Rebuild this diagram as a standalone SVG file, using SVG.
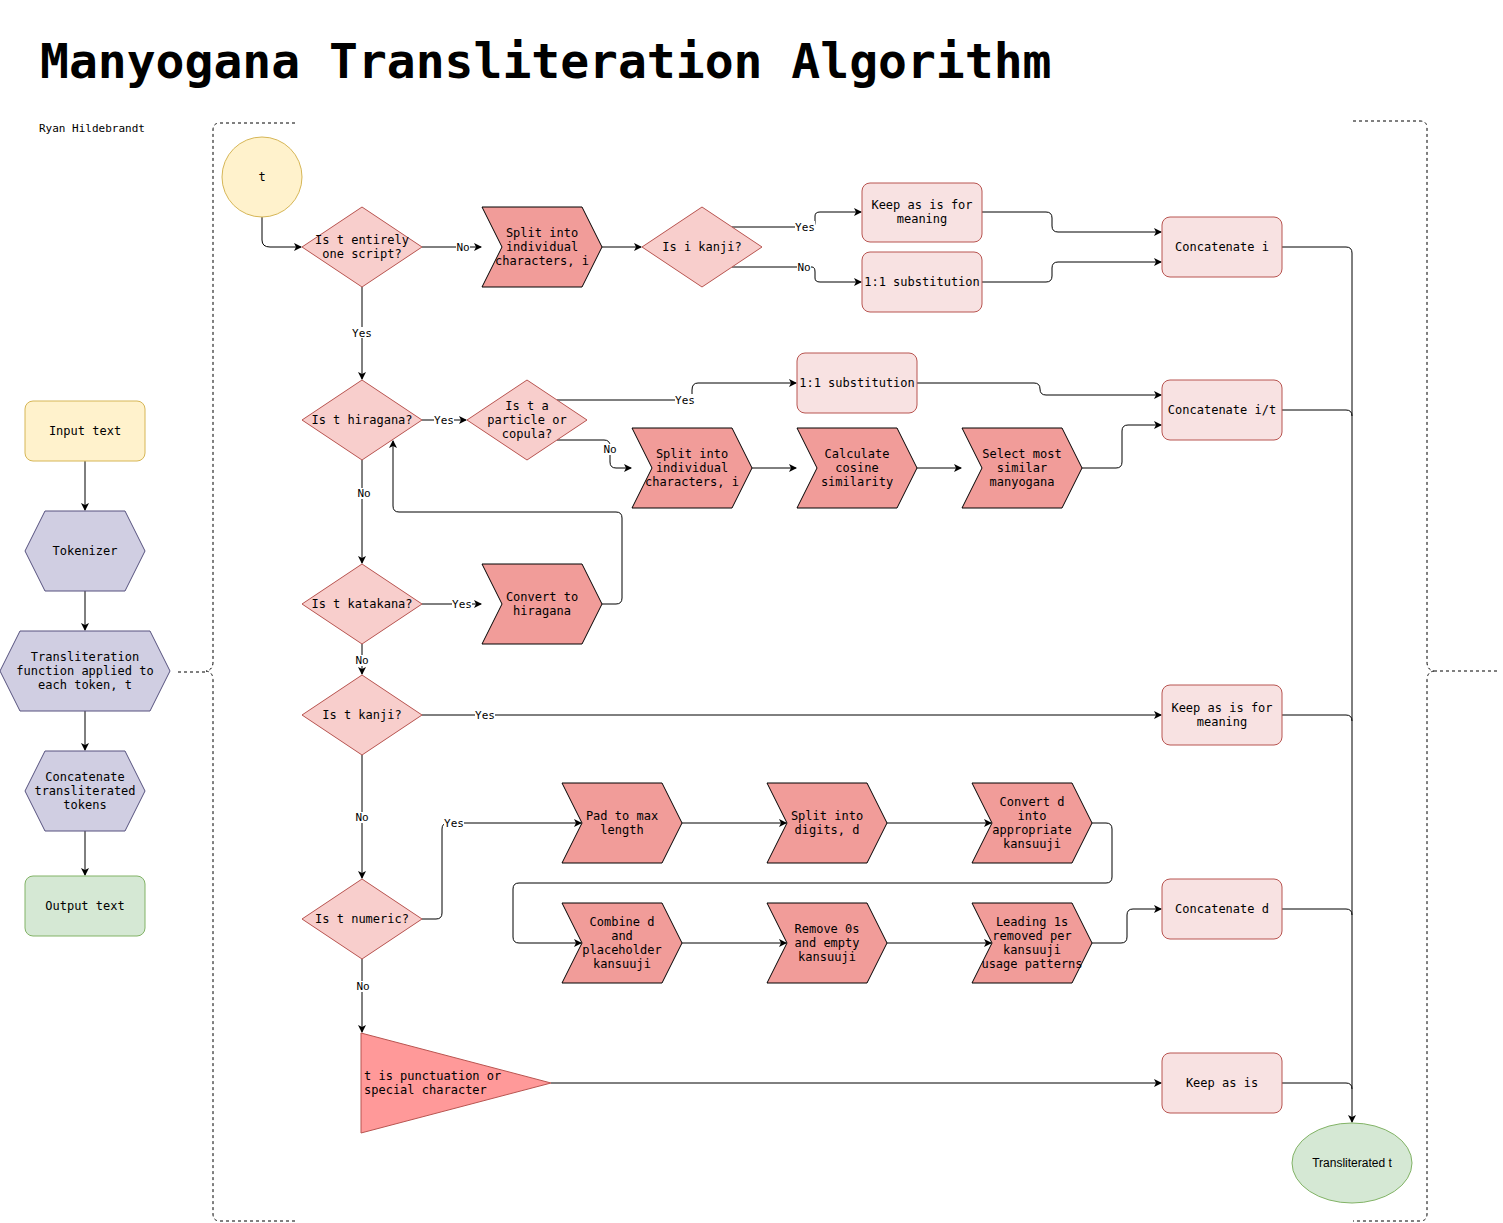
<svg xmlns="http://www.w3.org/2000/svg" width="1503" height="1223" viewBox="0 0 1503 1223">
<style>
text{font-family:"DejaVu Sans Mono","Liberation Mono",monospace;font-size:12px;text-anchor:middle;fill:#000}
.d{fill:#f8cecc;stroke:#b85450}
.s{fill:#f19c99;stroke:#000}
.r{fill:#f8e2e2;stroke:#b85450}
.h{fill:#d0cee2;stroke:#56517e}
.c{fill:none;stroke:#000;stroke-width:1}
.dash{fill:none;stroke:#000;stroke-dasharray:3 3}
.lb{font-size:11px}
.lbg{fill:#fff}
</style>
<defs><marker id="a" markerWidth="8" markerHeight="8" refX="7" refY="4" orient="auto" markerUnits="userSpaceOnUse"><path d="M0,0 L8,4 L0,8 L2,4 Z" fill="#000"/></marker></defs>
<rect width="1503" height="1223" fill="#fff"/>
<text x="40" y="78" style="font-size:48px;font-weight:bold;text-anchor:start">Manyogana Transliteration Algorithm</text>
<text x="39" y="132" style="font-size:11px;text-anchor:start">Ryan Hildebrandt</text>
<path class="dash" d="M295,123 H220 Q213,123 213,130 V662 Q213,670 206,671 Q213,672 213,680 V1214 Q213,1221 220,1221 H295"/>
<path class="dash" d="M178,672 H206"/>
<path class="dash" d="M1353,121 H1420 Q1427,121 1427,128 V662 Q1427,670 1434,671 Q1427,672 1427,680 V1214 Q1427,1221 1420,1221 H1353"/>
<path class="dash" d="M1434,671 H1497"/>
<g id="connectors">
<path class="c" d="M262,217 V240 Q262,247 270,247 H301" marker-end="url(#a)"/>
<path class="c" d="M422,247 H481" marker-end="url(#a)"/>
<path class="c" d="M602,247 H641" marker-end="url(#a)"/>
<path class="c" d="M732,227 H812 Q815,227 815,222 V216 Q815,212 820,212 H861" marker-end="url(#a)"/>
<path class="c" d="M732,267 H812 Q815,267 815,272 V278 Q815,282 820,282 H861" marker-end="url(#a)"/>
<path class="c" d="M982,212 H1046 Q1052,212 1052,218 V226 Q1052,232 1058,232 H1161" marker-end="url(#a)"/>
<path class="c" d="M982,282 H1046 Q1052,282 1052,276 V268 Q1052,262 1058,262 H1161" marker-end="url(#a)"/>
<path class="c" d="M362,287 V379" marker-end="url(#a)"/>
<path class="c" d="M422,420 H466" marker-end="url(#a)"/>
<path class="c" d="M557,400 H686 Q692,400 692,394 V390 Q692,383 698,383 H796" marker-end="url(#a)"/>
<path class="c" d="M557,440 H604 Q610,440 610,446 V462 Q610,468 616,468 H631" marker-end="url(#a)"/>
<path class="c" d="M917,383 H1034 Q1040,383 1040,389 V389 Q1040,395 1046,395 H1161" marker-end="url(#a)"/>
<path class="c" d="M752,468 H796" marker-end="url(#a)"/>
<path class="c" d="M917,468 H961" marker-end="url(#a)"/>
<path class="c" d="M1082,468 H1116 Q1122,468 1122,462 V431 Q1122,425 1128,425 H1161" marker-end="url(#a)"/>
<path class="c" d="M362,460 V563" marker-end="url(#a)"/>
<path class="c" d="M422,604 H481" marker-end="url(#a)"/>
<path class="c" d="M602,604 H616 Q622,604 622,598 V518 Q622,512 616,512 H399 Q393,512 393,506 V441" marker-end="url(#a)"/>
<path class="c" d="M362,644 V674" marker-end="url(#a)"/>
<path class="c" d="M422,715 H1161" marker-end="url(#a)"/>
<path class="c" d="M362,755 V878" marker-end="url(#a)"/>
<path class="c" d="M422,919 H436 Q442,919 442,913 V829 Q442,823 448,823 H581" marker-end="url(#a)"/>
<path class="c" d="M682,823 H786" marker-end="url(#a)"/>
<path class="c" d="M887,823 H991" marker-end="url(#a)"/>
<path class="c" d="M1092,823 H1106 Q1112,823 1112,829 V877 Q1112,883 1106,883 H519 Q513,883 513,889 V937 Q513,943 519,943 H581" marker-end="url(#a)"/>
<path class="c" d="M682,943 H786" marker-end="url(#a)"/>
<path class="c" d="M887,943 H991" marker-end="url(#a)"/>
<path class="c" d="M1092,943 H1121 Q1127,943 1127,937 V915 Q1127,909 1133,909 H1161" marker-end="url(#a)"/>
<path class="c" d="M362,959 V1032" marker-end="url(#a)"/>
<path class="c" d="M551,1083 H1161" marker-end="url(#a)"/>
<path class="c" d="M1282,247 H1346 Q1352,247 1352,253 V1122" marker-end="url(#a)"/>
<path class="c" d="M1282,410 H1346 Q1352,410 1352,416"/>
<path class="c" d="M1282,715 H1346 Q1352,715 1352,721"/>
<path class="c" d="M1282,909 H1346 Q1352,909 1352,915"/>
<path class="c" d="M1282,1083 H1346 Q1352,1083 1352,1089"/>
<path class="c" d="M85,461 V510" marker-end="url(#a)"/>
<path class="c" d="M85,591 V630" marker-end="url(#a)"/>
<path class="c" d="M85,711 V750" marker-end="url(#a)"/>
<path class="c" d="M85,831 V875" marker-end="url(#a)"/>
<g class="lb">
<rect class="lbg" x="456" y="242" width="14" height="11"/><text x="463" y="251" class="lb">No</text>
<rect class="lbg" x="795" y="221" width="20" height="11"/><text x="805" y="231" class="lb">Yes</text>
<rect class="lbg" x="797" y="261" width="14" height="11"/><text x="804" y="271" class="lb">No</text>
<rect class="lbg" x="352" y="327" width="20" height="11"/><text x="362" y="337" class="lb">Yes</text>
<rect class="lbg" x="434" y="414" width="20" height="11"/><text x="444" y="424" class="lb">Yes</text>
<rect class="lbg" x="675" y="394" width="20" height="11"/><text x="685" y="404" class="lb">Yes</text>
<rect class="lbg" x="603" y="444" width="14" height="11"/><text x="610" y="453" class="lb">No</text>
<rect class="lbg" x="357" y="488" width="14" height="11"/><text x="364" y="497" class="lb">No</text>
<rect class="lbg" x="452" y="598" width="20" height="11"/><text x="462" y="608" class="lb">Yes</text>
<rect class="lbg" x="355" y="655" width="14" height="11"/><text x="362" y="664" class="lb">No</text>
<rect class="lbg" x="475" y="709" width="20" height="11"/><text x="485" y="719" class="lb">Yes</text>
<rect class="lbg" x="355" y="812" width="14" height="11"/><text x="362" y="821" class="lb">No</text>
<rect class="lbg" x="444" y="817" width="20" height="11"/><text x="454" y="827" class="lb">Yes</text>
<rect class="lbg" x="356" y="981" width="14" height="11"/><text x="363" y="990" class="lb">No</text>
</g>
</g>
<g id="t"><circle cx="262" cy="177" r="40" fill="#fff2cc" stroke="#d6b656"/><text x="262" y="181">t</text></g>
<g id="d1"><path class="d" d="M302,247 L362,207 L422,247 L362,287 Z"/><text x="362" y="244">Is t entirely</text><text x="362" y="258">one script?</text></g>
<g id="s1"><path class="s" d="M482,207 H582 L602,247 L582,287 H482 L502,247 Z"/><text x="542" y="237">Split into</text><text x="542" y="251">individual</text><text x="542" y="265">characters, i</text></g>
<g id="d2"><path class="d" d="M642,247 L702,207 L762,247 L702,287 Z"/><text x="702" y="251">Is i kanji?</text></g>
<g id="r1"><rect class="r" x="862" y="183" width="120" height="59" rx="8"/><text x="922" y="209">Keep as is for</text><text x="922" y="223">meaning</text></g>
<g id="r2"><rect class="r" x="862" y="252" width="120" height="60" rx="8"/><text x="922" y="286">1:1 substitution</text></g>
<g id="r3"><rect class="r" x="1162" y="217" width="120" height="60" rx="8"/><text x="1222" y="251">Concatenate i</text></g>
<g id="d3"><path class="d" d="M302,420 L362,380 L422,420 L362,460 Z"/><text x="362" y="424">Is t hiragana?</text></g>
<g id="d4"><path class="d" d="M467,420 L527,380 L587,420 L527,460 Z"/><text x="527" y="410">Is t a</text><text x="527" y="424">particle or</text><text x="527" y="438">copula?</text></g>
<g id="r4"><rect class="r" x="797" y="353" width="120" height="60" rx="8"/><text x="857" y="387">1:1 substitution</text></g>
<g id="r5"><rect class="r" x="1162" y="380" width="120" height="60" rx="8"/><text x="1222" y="414">Concatenate i/t</text></g>
<g id="s2"><path class="s" d="M632,428 H732 L752,468 L732,508 H632 L652,468 Z"/><text x="692" y="458">Split into</text><text x="692" y="472">individual</text><text x="692" y="486">characters, i</text></g>
<g id="s3"><path class="s" d="M797,428 H897 L917,468 L897,508 H797 L817,468 Z"/><text x="857" y="458">Calculate</text><text x="857" y="472">cosine</text><text x="857" y="486">similarity</text></g>
<g id="s4"><path class="s" d="M962,428 H1062 L1082,468 L1062,508 H962 L982,468 Z"/><text x="1022" y="458">Select most</text><text x="1022" y="472">similar</text><text x="1022" y="486">manyogana</text></g>
<g id="d5"><path class="d" d="M302,604 L362,564 L422,604 L362,644 Z"/><text x="362" y="608">Is t katakana?</text></g>
<g id="s5"><path class="s" d="M482,564 H582 L602,604 L582,644 H482 L502,604 Z"/><text x="542" y="601">Convert to</text><text x="542" y="615">hiragana</text></g>
<g id="d6"><path class="d" d="M302,715 L362,675 L422,715 L362,755 Z"/><text x="362" y="719">Is t kanji?</text></g>
<g id="r6"><rect class="r" x="1162" y="685" width="120" height="60" rx="8"/><text x="1222" y="712">Keep as is for</text><text x="1222" y="726">meaning</text></g>
<g id="d7"><path class="d" d="M302,919 L362,879 L422,919 L362,959 Z"/><text x="362" y="923">Is t numeric?</text></g>
<g id="s6"><path class="s" d="M562,783 H662 L682,823 L662,863 H562 L582,823 Z"/><text x="622" y="820">Pad to max</text><text x="622" y="834">length</text></g>
<g id="s7"><path class="s" d="M767,783 H867 L887,823 L867,863 H767 L787,823 Z"/><text x="827" y="820">Split into</text><text x="827" y="834">digits, d</text></g>
<g id="s8"><path class="s" d="M972,783 H1072 L1092,823 L1072,863 H972 L992,823 Z"/><text x="1032" y="806">Convert d</text><text x="1032" y="820">into</text><text x="1032" y="834">appropriate</text><text x="1032" y="848">kansuuji</text></g>
<g id="s9"><path class="s" d="M562,903 H662 L682,943 L662,983 H562 L582,943 Z"/><text x="622" y="926">Combine d</text><text x="622" y="940">and</text><text x="622" y="954">placeholder</text><text x="622" y="968">kansuuji</text></g>
<g id="s10"><path class="s" d="M767,903 H867 L887,943 L867,983 H767 L787,943 Z"/><text x="827" y="933">Remove 0s</text><text x="827" y="947">and empty</text><text x="827" y="961">kansuuji</text></g>
<g id="s11"><path class="s" d="M972,903 H1072 L1092,943 L1072,983 H972 L992,943 Z"/><text x="1032" y="926">Leading 1s</text><text x="1032" y="940">removed per</text><text x="1032" y="954">kansuuji</text><text x="1032" y="968">usage patterns</text></g>
<g id="r7"><rect class="r" x="1162" y="879" width="120" height="60" rx="8"/><text x="1222" y="913">Concatenate d</text></g>
<g id="tri"><path d="M361,1033 L551,1083 L361,1133 Z" fill="#ff9999" stroke="#b85450"/><text x="364" y="1080" style="text-anchor:start">t is punctuation or</text><text x="364" y="1094" style="text-anchor:start">special character</text></g>
<g id="r8"><rect class="r" x="1162" y="1053" width="120" height="60" rx="8"/><text x="1222" y="1087">Keep as is</text></g>
<g id="out"><ellipse cx="1352" cy="1163" rx="60" ry="40" fill="#d5e8d4" stroke="#82b366"/><text x="1352" y="1167" style="font-family:'Liberation Sans',Arial,sans-serif">Transliterated t</text></g>
<g id="in"><rect x="25" y="401" width="120" height="60" rx="8" fill="#fff2cc" stroke="#d6b656"/><text x="85" y="435">Input text</text></g>
<g id="tok"><path class="h" d="M45,511 H125 L145,551 L125,591 H45 L25,551 Z"/><text x="85" y="555">Tokenizer</text></g>
<g id="tf"><path class="h" d="M20,631 H150 L170,671 L150,711 H20 L0,671 Z"/><text x="85" y="661">Transliteration</text><text x="85" y="675">function applied to</text><text x="85" y="689">each token, t</text></g>
<g id="cat"><path class="h" d="M45,751 H125 L145,791 L125,831 H45 L25,791 Z"/><text x="85" y="781">Concatenate</text><text x="85" y="795">transliterated</text><text x="85" y="809">tokens</text></g>
<g id="ot"><rect x="25" y="876" width="120" height="60" rx="8" fill="#d5e8d4" stroke="#82b366"/><text x="85" y="910">Output text</text></g>
</svg>
